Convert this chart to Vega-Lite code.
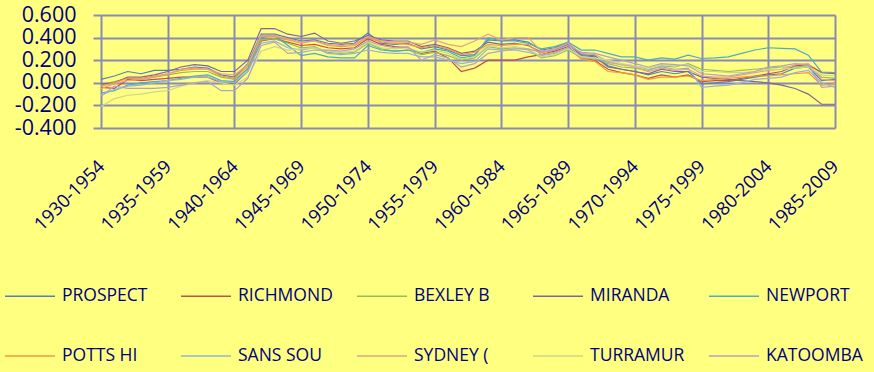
{
  "$schema": "https://vega.github.io/schema/vega-lite/v6.json",
  "width": 734,
  "height": 113,
  "autosize": {"type": "none"},
  "padding": {"left": 101, "top": 15, "right": 39, "bottom": 244},
  "background": "#FFFF80",
  "config": {
    "view": {"stroke": null},
    "font": "Open Sans"
  },
  "data": {
    "values": [
      {"period": "1930-1954", "PROSPECT": 0.03, "RICHMOND": -0.04, "BEXLEY B": -0.02, "MIRANDA": -0.01, "NEWPORT": -0.09, "POTTS HI": -0.03, "SANS SOU": -0.11, "SYDNEY (": -0.05, "TURRAMUR": -0.21, "KATOOMBA": -0.12},
      {"period": "1931-1955", "PROSPECT": 0.06, "RICHMOND": -0.05, "BEXLEY B": 0.01, "MIRANDA": 0.0, "NEWPORT": -0.07, "POTTS HI": 0.0, "SANS SOU": -0.06, "SYDNEY (": -0.01, "TURRAMUR": -0.14, "KATOOMBA": -0.03},
      {"period": "1932-1956", "PROSPECT": 0.10, "RICHMOND": 0.03, "BEXLEY B": 0.04, "MIRANDA": 0.05, "NEWPORT": -0.02, "POTTS HI": 0.04, "SANS SOU": -0.03, "SYDNEY (": 0.02, "TURRAMUR": -0.11, "KATOOMBA": -0.05},
      {"period": "1933-1957", "PROSPECT": 0.08, "RICHMOND": 0.02, "BEXLEY B": 0.03, "MIRANDA": 0.05, "NEWPORT": 0.0, "POTTS HI": 0.04, "SANS SOU": -0.02, "SYDNEY (": 0.03, "TURRAMUR": -0.10, "KATOOMBA": -0.05},
      {"period": "1934-1958", "PROSPECT": 0.11, "RICHMOND": 0.03, "BEXLEY B": 0.05, "MIRANDA": 0.07, "NEWPORT": 0.01, "POTTS HI": 0.06, "SANS SOU": 0.0, "SYDNEY (": 0.05, "TURRAMUR": -0.08, "KATOOMBA": -0.05},
      {"period": "1935-1959", "PROSPECT": 0.11, "RICHMOND": 0.04, "BEXLEY B": 0.07, "MIRANDA": 0.10, "NEWPORT": 0.02, "POTTS HI": 0.08, "SANS SOU": 0.02, "SYDNEY (": 0.08, "TURRAMUR": -0.07, "KATOOMBA": -0.04},
      {"period": "1936-1960", "PROSPECT": 0.12, "RICHMOND": 0.05, "BEXLEY B": 0.09, "MIRANDA": 0.14, "NEWPORT": 0.04, "POTTS HI": 0.11, "SANS SOU": 0.03, "SYDNEY (": 0.12, "TURRAMUR": -0.03, "KATOOMBA": -0.02},
      {"period": "1937-1961", "PROSPECT": 0.14, "RICHMOND": 0.05, "BEXLEY B": 0.10, "MIRANDA": 0.16, "NEWPORT": 0.06, "POTTS HI": 0.12, "SANS SOU": 0.05, "SYDNEY (": 0.13, "TURRAMUR": 0.0, "KATOOMBA": 0.0},
      {"period": "1938-1962", "PROSPECT": 0.13, "RICHMOND": 0.05, "BEXLEY B": 0.10, "MIRANDA": 0.15, "NEWPORT": 0.07, "POTTS HI": 0.12, "SANS SOU": 0.05, "SYDNEY (": 0.12, "TURRAMUR": 0.02, "KATOOMBA": 0.01},
      {"period": "1939-1963", "PROSPECT": 0.07, "RICHMOND": 0.0, "BEXLEY B": 0.05, "MIRANDA": 0.10, "NEWPORT": 0.02, "POTTS HI": 0.06, "SANS SOU": 0.01, "SYDNEY (": 0.08, "TURRAMUR": 0.0, "KATOOMBA": -0.07},
      {"period": "1940-1964", "PROSPECT": 0.05, "RICHMOND": -0.01, "BEXLEY B": 0.03, "MIRANDA": 0.10, "NEWPORT": 0.01, "POTTS HI": 0.04, "SANS SOU": 0.0, "SYDNEY (": 0.07, "TURRAMUR": -0.02, "KATOOMBA": -0.07},
      {"period": "1941-1965", "PROSPECT": 0.17, "RICHMOND": 0.10, "BEXLEY B": 0.12, "MIRANDA": 0.20, "NEWPORT": 0.13, "POTTS HI": 0.15, "SANS SOU": 0.10, "SYDNEY (": 0.16, "TURRAMUR": 0.05, "KATOOMBA": 0.04},
      {"period": "1942-1966", "PROSPECT": 0.43, "RICHMOND": 0.37, "BEXLEY B": 0.38, "MIRANDA": 0.48, "NEWPORT": 0.40, "POTTS HI": 0.41, "SANS SOU": 0.35, "SYDNEY (": 0.42, "TURRAMUR": 0.28, "KATOOMBA": 0.33},
      {"period": "1943-1967", "PROSPECT": 0.43, "RICHMOND": 0.39, "BEXLEY B": 0.39, "MIRANDA": 0.48, "NEWPORT": 0.42, "POTTS HI": 0.41, "SANS SOU": 0.37, "SYDNEY (": 0.42, "TURRAMUR": 0.32, "KATOOMBA": 0.36},
      {"period": "1944-1968", "PROSPECT": 0.40, "RICHMOND": 0.36, "BEXLEY B": 0.35, "MIRANDA": 0.43, "NEWPORT": 0.33, "POTTS HI": 0.38, "SANS SOU": 0.31, "SYDNEY (": 0.39, "TURRAMUR": 0.29, "KATOOMBA": 0.26},
      {"period": "1945-1969", "PROSPECT": 0.37, "RICHMOND": 0.33, "BEXLEY B": 0.31, "MIRANDA": 0.41, "NEWPORT": 0.24, "POTTS HI": 0.35, "SANS SOU": 0.29, "SYDNEY (": 0.36, "TURRAMUR": 0.30, "KATOOMBA": 0.27},
      {"period": "1946-1970", "PROSPECT": 0.38, "RICHMOND": 0.34, "BEXLEY B": 0.32, "MIRANDA": 0.44, "NEWPORT": 0.26, "POTTS HI": 0.37, "SANS SOU": 0.31, "SYDNEY (": 0.37, "TURRAMUR": 0.31, "KATOOMBA": 0.29},
      {"period": "1947-1971", "PROSPECT": 0.35, "RICHMOND": 0.31, "BEXLEY B": 0.27, "MIRANDA": 0.37, "NEWPORT": 0.23, "POTTS HI": 0.33, "SANS SOU": 0.26, "SYDNEY (": 0.34, "TURRAMUR": 0.28, "KATOOMBA": 0.29},
      {"period": "1948-1972", "PROSPECT": 0.34, "RICHMOND": 0.30, "BEXLEY B": 0.26, "MIRANDA": 0.35, "NEWPORT": 0.22, "POTTS HI": 0.32, "SANS SOU": 0.25, "SYDNEY (": 0.33, "TURRAMUR": 0.27, "KATOOMBA": 0.28},
      {"period": "1949-1973", "PROSPECT": 0.35, "RICHMOND": 0.31, "BEXLEY B": 0.27, "MIRANDA": 0.37, "NEWPORT": 0.22, "POTTS HI": 0.33, "SANS SOU": 0.26, "SYDNEY (": 0.34, "TURRAMUR": 0.28, "KATOOMBA": 0.30},
      {"period": "1950-1974", "PROSPECT": 0.44, "RICHMOND": 0.39, "BEXLEY B": 0.35, "MIRANDA": 0.42, "NEWPORT": 0.33, "POTTS HI": 0.40, "SANS SOU": 0.29, "SYDNEY (": 0.41, "TURRAMUR": 0.36, "KATOOMBA": 0.37},
      {"period": "1951-1975", "PROSPECT": 0.35, "RICHMOND": 0.34, "BEXLEY B": 0.30, "MIRANDA": 0.38, "NEWPORT": 0.29, "POTTS HI": 0.36, "SANS SOU": 0.27, "SYDNEY (": 0.37, "TURRAMUR": 0.31, "KATOOMBA": 0.33},
      {"period": "1952-1976", "PROSPECT": 0.34, "RICHMOND": 0.32, "BEXLEY B": 0.28, "MIRANDA": 0.37, "NEWPORT": 0.28, "POTTS HI": 0.35, "SANS SOU": 0.26, "SYDNEY (": 0.36, "TURRAMUR": 0.30, "KATOOMBA": 0.31},
      {"period": "1953-1977", "PROSPECT": 0.35, "RICHMOND": 0.31, "BEXLEY B": 0.29, "MIRANDA": 0.37, "NEWPORT": 0.29, "POTTS HI": 0.34, "SANS SOU": 0.26, "SYDNEY (": 0.36, "TURRAMUR": 0.31, "KATOOMBA": 0.32},
      {"period": "1954-1978", "PROSPECT": 0.30, "RICHMOND": 0.26, "BEXLEY B": 0.25, "MIRANDA": 0.32, "NEWPORT": 0.27, "POTTS HI": 0.31, "SANS SOU": 0.23, "SYDNEY (": 0.34, "TURRAMUR": 0.27, "KATOOMBA": 0.20},
      {"period": "1955-1979", "PROSPECT": 0.32, "RICHMOND": 0.28, "BEXLEY B": 0.27, "MIRANDA": 0.34, "NEWPORT": 0.30, "POTTS HI": 0.33, "SANS SOU": 0.23, "SYDNEY (": 0.38, "TURRAMUR": 0.29, "KATOOMBA": 0.25},
      {"period": "1956-1980", "PROSPECT": 0.29, "RICHMOND": 0.22, "BEXLEY B": 0.24, "MIRANDA": 0.31, "NEWPORT": 0.28, "POTTS HI": 0.30, "SANS SOU": 0.20, "SYDNEY (": 0.34, "TURRAMUR": 0.26, "KATOOMBA": 0.22},
      {"period": "1957-1981", "PROSPECT": 0.24, "RICHMOND": 0.10, "BEXLEY B": 0.20, "MIRANDA": 0.26, "NEWPORT": 0.22, "POTTS HI": 0.25, "SANS SOU": 0.17, "SYDNEY (": 0.32, "TURRAMUR": 0.21, "KATOOMBA": 0.14},
      {"period": "1958-1982", "PROSPECT": 0.25, "RICHMOND": 0.13, "BEXLEY B": 0.22, "MIRANDA": 0.28, "NEWPORT": 0.24, "POTTS HI": 0.27, "SANS SOU": 0.19, "SYDNEY (": 0.37, "TURRAMUR": 0.23, "KATOOMBA": 0.17},
      {"period": "1959-1983", "PROSPECT": 0.38, "RICHMOND": 0.20, "BEXLEY B": 0.32, "MIRANDA": 0.36, "NEWPORT": 0.40, "POTTS HI": 0.34, "SANS SOU": 0.30, "SYDNEY (": 0.43, "TURRAMUR": 0.33, "KATOOMBA": 0.26},
      {"period": "1960-1984", "PROSPECT": 0.37, "RICHMOND": 0.20, "BEXLEY B": 0.30, "MIRANDA": 0.34, "NEWPORT": 0.37, "POTTS HI": 0.33, "SANS SOU": 0.29, "SYDNEY (": 0.38, "TURRAMUR": 0.31, "KATOOMBA": 0.28},
      {"period": "1961-1985", "PROSPECT": 0.38, "RICHMOND": 0.20, "BEXLEY B": 0.31, "MIRANDA": 0.35, "NEWPORT": 0.37, "POTTS HI": 0.34, "SANS SOU": 0.29, "SYDNEY (": 0.40, "TURRAMUR": 0.32, "KATOOMBA": 0.30},
      {"period": "1962-1986", "PROSPECT": 0.36, "RICHMOND": 0.23, "BEXLEY B": 0.29, "MIRANDA": 0.33, "NEWPORT": 0.35, "POTTS HI": 0.34, "SANS SOU": 0.27, "SYDNEY (": 0.40, "TURRAMUR": 0.30, "KATOOMBA": 0.30},
      {"period": "1963-1987", "PROSPECT": 0.29, "RICHMOND": 0.25, "BEXLEY B": 0.22, "MIRANDA": 0.27, "NEWPORT": 0.30, "POTTS HI": 0.25, "SANS SOU": 0.24, "SYDNEY (": 0.28, "TURRAMUR": 0.23, "KATOOMBA": 0.27},
      {"period": "1964-1988", "PROSPECT": 0.31, "RICHMOND": 0.28, "BEXLEY B": 0.24, "MIRANDA": 0.29, "NEWPORT": 0.32, "POTTS HI": 0.27, "SANS SOU": 0.26, "SYDNEY (": 0.30, "TURRAMUR": 0.25, "KATOOMBA": 0.29},
      {"period": "1965-1989", "PROSPECT": 0.35, "RICHMOND": 0.32, "BEXLEY B": 0.29, "MIRANDA": 0.34, "NEWPORT": 0.36, "POTTS HI": 0.31, "SANS SOU": 0.31, "SYDNEY (": 0.35, "TURRAMUR": 0.30, "KATOOMBA": 0.33},
      {"period": "1966-1990", "PROSPECT": 0.25, "RICHMOND": 0.22, "BEXLEY B": 0.22, "MIRANDA": 0.24, "NEWPORT": 0.29, "POTTS HI": 0.21, "SANS SOU": 0.23, "SYDNEY (": 0.26, "TURRAMUR": 0.23, "KATOOMBA": 0.27},
      {"period": "1967-1991", "PROSPECT": 0.24, "RICHMOND": 0.20, "BEXLEY B": 0.21, "MIRANDA": 0.23, "NEWPORT": 0.29, "POTTS HI": 0.19, "SANS SOU": 0.22, "SYDNEY (": 0.25, "TURRAMUR": 0.22, "KATOOMBA": 0.26},
      {"period": "1968-1992", "PROSPECT": 0.15, "RICHMOND": 0.12, "BEXLEY B": 0.17, "MIRANDA": 0.14, "NEWPORT": 0.26, "POTTS HI": 0.10, "SANS SOU": 0.18, "SYDNEY (": 0.19, "TURRAMUR": 0.20, "KATOOMBA": 0.23},
      {"period": "1969-1993", "PROSPECT": 0.12, "RICHMOND": 0.09, "BEXLEY B": 0.14, "MIRANDA": 0.12, "NEWPORT": 0.23, "POTTS HI": 0.09, "SANS SOU": 0.16, "SYDNEY (": 0.16, "TURRAMUR": 0.17, "KATOOMBA": 0.20},
      {"period": "1970-1994", "PROSPECT": 0.10, "RICHMOND": 0.07, "BEXLEY B": 0.13, "MIRANDA": 0.10, "NEWPORT": 0.23, "POTTS HI": 0.07, "SANS SOU": 0.15, "SYDNEY (": 0.14, "TURRAMUR": 0.15, "KATOOMBA": 0.17},
      {"period": "1971-1995", "PROSPECT": 0.07, "RICHMOND": 0.04, "BEXLEY B": 0.11, "MIRANDA": 0.08, "NEWPORT": 0.20, "POTTS HI": 0.03, "SANS SOU": 0.12, "SYDNEY (": 0.10, "TURRAMUR": 0.13, "KATOOMBA": 0.14},
      {"period": "1972-1996", "PROSPECT": 0.10, "RICHMOND": 0.07, "BEXLEY B": 0.15, "MIRANDA": 0.12, "NEWPORT": 0.22, "POTTS HI": 0.05, "SANS SOU": 0.14, "SYDNEY (": 0.13, "TURRAMUR": 0.16, "KATOOMBA": 0.17},
      {"period": "1973-1997", "PROSPECT": 0.08, "RICHMOND": 0.05, "BEXLEY B": 0.14, "MIRANDA": 0.10, "NEWPORT": 0.21, "POTTS HI": 0.05, "SANS SOU": 0.12, "SYDNEY (": 0.11, "TURRAMUR": 0.15, "KATOOMBA": 0.16},
      {"period": "1974-1998", "PROSPECT": 0.10, "RICHMOND": 0.07, "BEXLEY B": 0.17, "MIRANDA": 0.10, "NEWPORT": 0.245, "POTTS HI": 0.06, "SANS SOU": 0.13, "SYDNEY (": 0.12, "TURRAMUR": 0.16, "KATOOMBA": 0.15},
      {"period": "1975-1999", "PROSPECT": -0.01, "RICHMOND": 0.01, "BEXLEY B": 0.12, "MIRANDA": 0.05, "NEWPORT": 0.215, "POTTS HI": 0.02, "SANS SOU": -0.04, "SYDNEY (": 0.06, "TURRAMUR": 0.10, "KATOOMBA": 0.08},
      {"period": "1976-2000", "PROSPECT": 0.0, "RICHMOND": 0.02, "BEXLEY B": 0.11, "MIRANDA": 0.04, "NEWPORT": 0.22, "POTTS HI": 0.03, "SANS SOU": -0.03, "SYDNEY (": 0.05, "TURRAMUR": 0.10, "KATOOMBA": 0.07},
      {"period": "1977-2001", "PROSPECT": 0.01, "RICHMOND": 0.02, "BEXLEY B": 0.10, "MIRANDA": 0.03, "NEWPORT": 0.23, "POTTS HI": 0.04, "SANS SOU": -0.02, "SYDNEY (": 0.05, "TURRAMUR": 0.09, "KATOOMBA": 0.06},
      {"period": "1978-2002", "PROSPECT": 0.03, "RICHMOND": 0.04, "BEXLEY B": 0.11, "MIRANDA": 0.02, "NEWPORT": 0.26, "POTTS HI": 0.05, "SANS SOU": 0.0, "SYDNEY (": 0.07, "TURRAMUR": 0.09, "KATOOMBA": 0.08},
      {"period": "1979-2003", "PROSPECT": 0.05, "RICHMOND": 0.06, "BEXLEY B": 0.12, "MIRANDA": 0.01, "NEWPORT": 0.29, "POTTS HI": 0.06, "SANS SOU": 0.03, "SYDNEY (": 0.09, "TURRAMUR": 0.10, "KATOOMBA": 0.10},
      {"period": "1980-2004", "PROSPECT": 0.07, "RICHMOND": 0.08, "BEXLEY B": 0.13, "MIRANDA": 0.0, "NEWPORT": 0.31, "POTTS HI": 0.06, "SANS SOU": 0.04, "SYDNEY (": 0.11, "TURRAMUR": 0.12, "KATOOMBA": 0.14},
      {"period": "1981-2005", "PROSPECT": 0.08, "RICHMOND": 0.10, "BEXLEY B": 0.14, "MIRANDA": -0.02, "NEWPORT": 0.305, "POTTS HI": 0.07, "SANS SOU": 0.05, "SYDNEY (": 0.12, "TURRAMUR": 0.12, "KATOOMBA": 0.15},
      {"period": "1982-2006", "PROSPECT": 0.13, "RICHMOND": 0.15, "BEXLEY B": 0.14, "MIRANDA": -0.05, "NEWPORT": 0.30, "POTTS HI": 0.08, "SANS SOU": 0.09, "SYDNEY (": 0.16, "TURRAMUR": 0.13, "KATOOMBA": 0.17},
      {"period": "1983-2007", "PROSPECT": 0.14, "RICHMOND": 0.16, "BEXLEY B": 0.15, "MIRANDA": -0.10, "NEWPORT": 0.245, "POTTS HI": 0.09, "SANS SOU": 0.11, "SYDNEY (": 0.17, "TURRAMUR": 0.14, "KATOOMBA": 0.16},
      {"period": "1984-2008", "PROSPECT": 0.02, "RICHMOND": 0.09, "BEXLEY B": 0.05, "MIRANDA": -0.19, "NEWPORT": 0.095, "POTTS HI": -0.02, "SANS SOU": 0.0, "SYDNEY (": 0.03, "TURRAMUR": 0.07, "KATOOMBA": -0.04},
      {"period": "1985-2009", "PROSPECT": 0.03, "RICHMOND": 0.08, "BEXLEY B": 0.04, "MIRANDA": -0.19, "NEWPORT": 0.09, "POTTS HI": -0.01, "SANS SOU": -0.04, "SYDNEY (": 0.02, "TURRAMUR": 0.06, "KATOOMBA": -0.03}
    ]
  },
  "transform": [
    {
      "fold": ["PROSPECT", "RICHMOND", "BEXLEY B", "MIRANDA", "NEWPORT", "POTTS HI", "SANS SOU", "SYDNEY (", "TURRAMUR", "KATOOMBA"],
      "as": ["station", "value"]
    }
  ],
  "mark": {"type": "line", "strokeWidth": 1.2},
  "encoding": {
    "x": {
      "field": "period",
      "type": "ordinal",
      "scale": {"type": "point", "padding": 0},
      "axis": {
        "title": null,
        "values": ["1930-1954", "1935-1959", "1940-1964", "1945-1969", "1950-1974", "1955-1979", "1960-1984", "1965-1989", "1970-1994", "1975-1999", "1980-2004", "1985-2009"],
        "grid": true,
        "gridColor": "#8A8AB6",
        "gridWidth": 2,
        "gridOpacity": 1,
        "domain": false,
        "ticks": false,
        "labelAngle": -45,
        "labelAlign": "right",
        "labelBaseline": "middle",
        "labelPadding": 35,
        "labelFontSize": 18.5,
        "labelColor": "#000080",
        "labelOverlap": false
      }
    },
    "y": {
      "field": "value",
      "type": "quantitative",
      "scale": {"domain": [-0.4, 0.6], "nice": false, "zero": false},
      "axis": {
        "title": null,
        "values": [-0.4, -0.2, 0, 0.2, 0.4, 0.6],
        "labelExpr": "replace(format(datum.value, '.3f'), '\u2212', '-')",
        "grid": true,
        "gridColor": "#8A8AB6",
        "gridWidth": 2,
        "gridOpacity": 1,
        "domain": false,
        "ticks": true,
        "tickSize": 8,
        "tickWidth": 2,
        "tickColor": "#8A8AB6",
        "labelPadding": 17,
        "labelFontSize": 21.5,
        "labelColor": "#000080",
        "labelOverlap": false
      }
    },
    "color": {
      "field": "station",
      "type": "nominal",
      "scale": {
        "domain": ["PROSPECT", "RICHMOND", "BEXLEY B", "MIRANDA", "NEWPORT", "POTTS HI", "SANS SOU", "SYDNEY (", "TURRAMUR", "KATOOMBA"],
        "range": ["#4F81BD", "#C0504D", "#9BBB59", "#8064A2", "#4BACC6", "#F79646", "#95B3D7", "#E6A08E", "#C9D98F", "#B3A2C7"]
      },
      "legend": {
        "title": null,
        "orient": "none",
        "legendX": -97,
        "legendY": 255,
        "direction": "horizontal",
        "columns": 5,
        "gridAlign": "all",
        "columnPadding": 19,
        "rowPadding": 25,
        "padding": 0,
        "symbolType": "stroke",
        "symbolSize": 2500,
        "symbolStrokeWidth": 1.5,
        "labelFontSize": 17.5,
        "labelColor": "#000080",
        "labelOffset": 6,
        "labelLimit": 200
      }
    }
  }
}
